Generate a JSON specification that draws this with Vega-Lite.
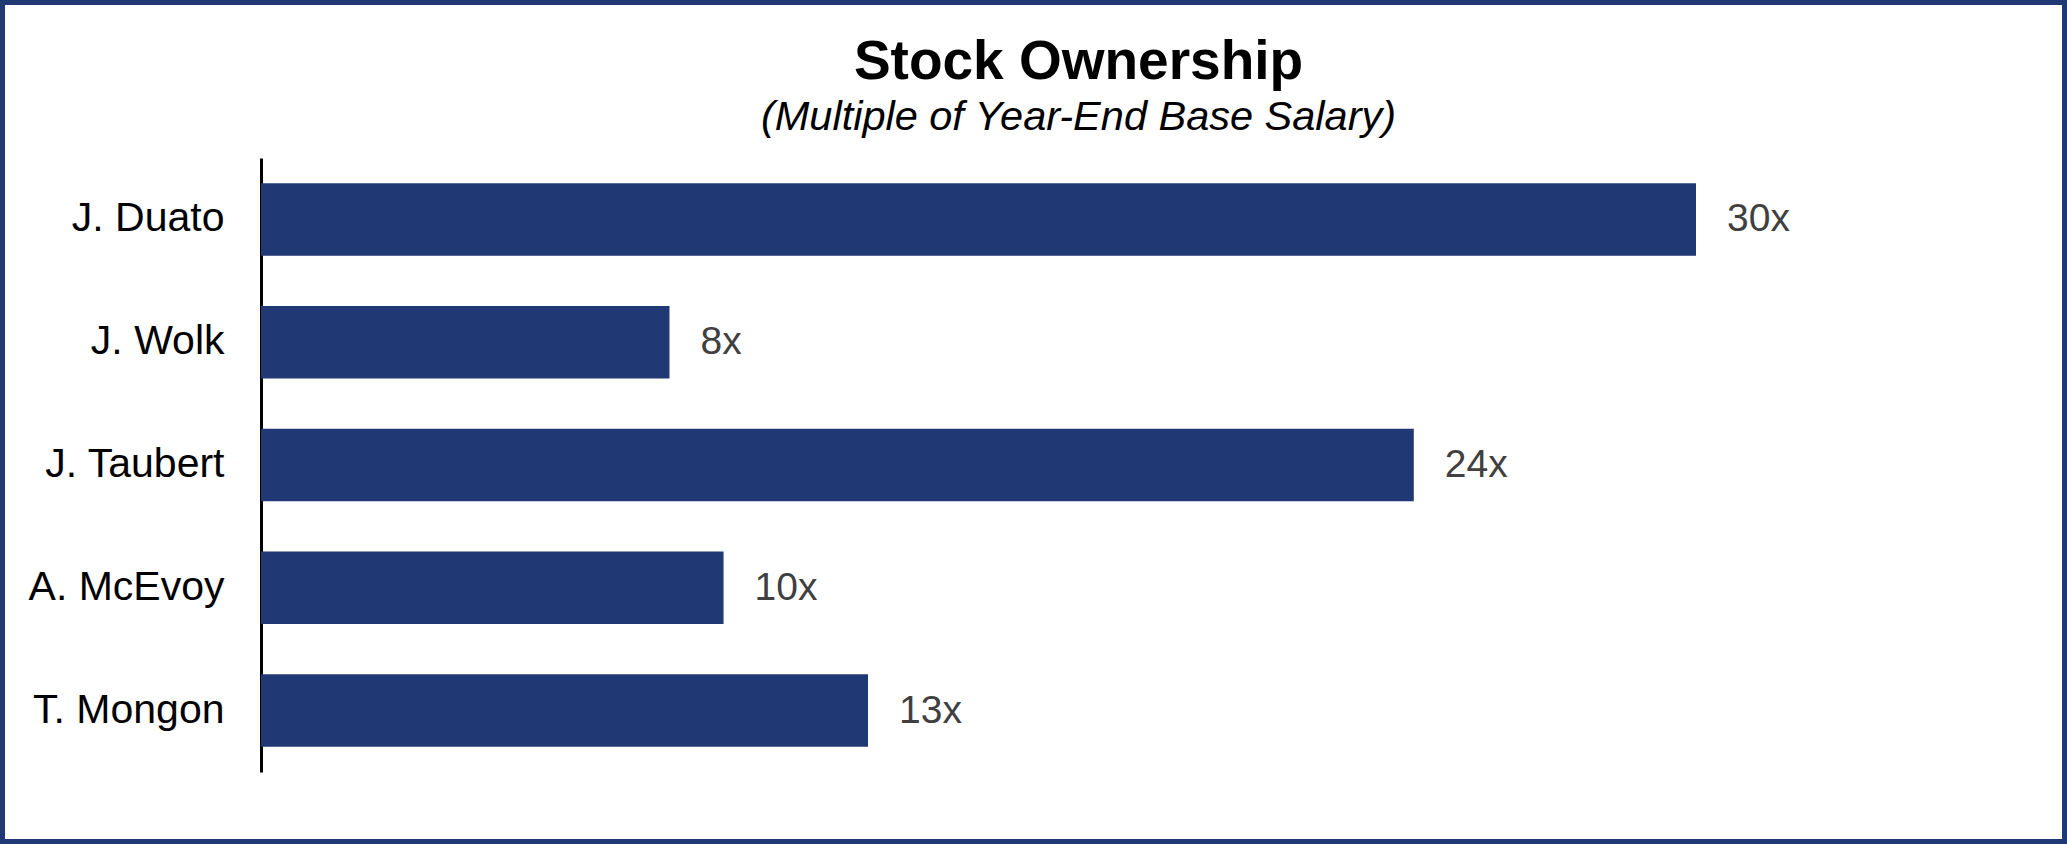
{
  "$schema": "https://vega.github.io/schema/vega-lite/v6.json",
  "autosize": "none",
  "padding": 0,
  "width": 2067,
  "height": 844,
  "background": "white",
  "config": {
    "view": {"stroke": "#203874", "strokeWidth": 10, "fill": "white"},
    "font": "Liberation Sans"
  },
  "title": {
    "text": "Stock Ownership",
    "subtitle": "(Multiple of Year-End Base Salary)",
    "anchor": "middle",
    "frame": "group",
    "orient": "top",
    "offset": -139,
    "dx": 45,
    "font": "Liberation Sans",
    "fontSize": 55,
    "fontWeight": "bold",
    "color": "black",
    "subtitleFont": "Liberation Sans",
    "subtitleFontSize": 41.5,
    "subtitleFontStyle": "italic",
    "subtitleColor": "black",
    "subtitlePadding": 6
  },
  "data": {
    "values": [
      {"name": "J. Duato", "multiple": 30, "label": "30x"},
      {"name": "J. Wolk", "multiple": 8.54, "label": "8x"},
      {"name": "J. Taubert", "multiple": 24.1, "label": "24x"},
      {"name": "A. McEvoy", "multiple": 9.67, "label": "10x"},
      {"name": "T. Mongon", "multiple": 12.69, "label": "13x"}
    ]
  },
  "encoding": {
    "y": {
      "field": "name",
      "type": "nominal",
      "sort": null,
      "scale": {"range": [158, 772], "paddingInner": 0.41, "paddingOuter": 0.205},
      "axis": {
        "title": null,
        "orient": "left",
        "offset": -261,
        "domainColor": "black",
        "domainWidth": 3,
        "ticks": false,
        "tickSize": 0,
        "labelPadding": 37,
        "labelFontSize": 41,
        "labelColor": "black",
        "labelFont": "Liberation Sans",
        "labelLimit": 500,
        "grid": false
      }
    },
    "x": {
      "field": "multiple",
      "type": "quantitative",
      "scale": {"domain": [0, 36], "range": [261, 1983], "nice": false},
      "axis": null
    }
  },
  "layer": [
    {"mark": {"type": "bar", "color": "#203874"}},
    {
      "mark": {"type": "text", "align": "left", "baseline": "middle", "dx": 31, "fontSize": 39, "color": "#404040", "font": "Liberation Sans"},
      "encoding": {"text": {"field": "label"}}
    }
  ]
}
